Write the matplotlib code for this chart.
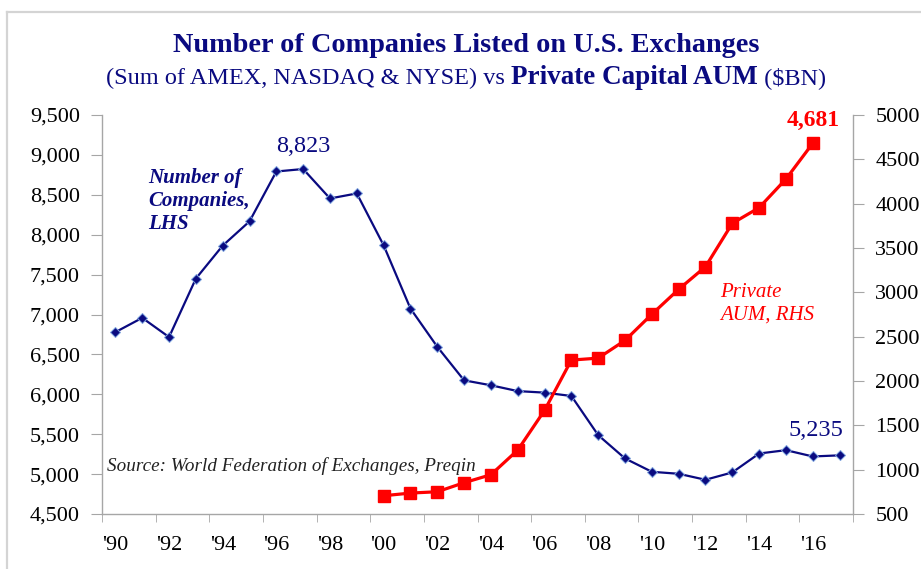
import matplotlib

matplotlib.use("Agg")
import matplotlib.pyplot as plt
from matplotlib.lines import Line2D
from matplotlib.ticker import FuncFormatter, FixedLocator

plt.rcParams["font.family"] = ["Liberation Serif", "DejaVu Serif"]

NAVY = "#0a0a80"
RED = "#ff0000"
SPINE = "#a6a6a6"

years = list(range(1990, 2018))
companies = [6779, 6958, 6717, 7450, 7863, 8167, 8792, 8823, 8454, 8517,
             7867, 7075, 6596, 6175, 6113, 6040, 6021, 5979, 5488, 5196,
             5029, 5004, 4929, 5021, 5258, 5300, 5221, 5235]
aum_years = list(range(2000, 2017))
aum = [706, 736, 751, 853, 943, 1221, 1669, 2236, 2258, 2458,
       2753, 3034, 3289, 3778, 3955, 4278, 4681]
tick_labels = ["'%02d" % (y % 100) for y in range(1990, 2018, 2)]

x_comp = [y - years[0] for y in years]
x_aum = [y - years[0] for y in aum_years]

fig = plt.figure(figsize=(9.21, 5.69), dpi=100)
ax = fig.add_axes([102 / 921, 1 - 514 / 569, 751 / 921, 399 / 569])
ax2 = ax.twinx()

# outer frame like the original slide
fig.add_artist(Line2D([7 / 921, 7 / 921], [0, 1 - 12 / 569], transform=fig.transFigure,
                      color="#d4d4d4", lw=1.6))
fig.add_artist(Line2D([7 / 921, 1], [1 - 12 / 569, 1 - 12 / 569], transform=fig.transFigure,
                      color="#d4d4d4", lw=1.6))

ax.plot(x_comp, companies, color=NAVY, lw=1.6, marker="D", ms=5.5,
        mfc=NAVY, mec="#7fa6e0", mew=0.7, zorder=3)
ax2.plot(x_aum, aum, color=RED, lw=2.3, marker="s", ms=8, mfc=RED, mec=RED, zorder=3)

ax.set_xlim(-0.5, len(years) - 0.5)
ax.set_ylim(4500, 9500)
ax2.set_ylim(500, 5000)
ax.set_yticks(range(4500, 9501, 500))
ax2.set_yticks(range(500, 5001, 500))
ax.yaxis.set_major_formatter(FuncFormatter(lambda v, p: f"{int(v):,}"))

ax.xaxis.set_major_locator(FixedLocator(list(range(0, len(years), 2))))
ax.set_xticklabels(tick_labels)
ax.xaxis.set_minor_locator(FixedLocator([i - 0.5 for i in range(0, len(years) + 1, 2)]))
ax.tick_params(axis="x", which="major", length=0, pad=16, labelsize=16)
ax.tick_params(axis="x", which="minor", length=6, color=SPINE, direction="out")
ax.tick_params(axis="y", length=8, color=SPINE, labelsize=16, pad=8)
ax2.tick_params(axis="y", length=8, color=SPINE, labelsize=16, pad=8)

for a in (ax, ax2):
    a.spines["top"].set_visible(False)
    for s in ("left", "right", "bottom"):
        a.spines[s].set_color(SPINE)
        a.spines[s].set_linewidth(1.0)
ax.spines["right"].set_visible(False)
ax2.spines["left"].set_visible(False)
ax2.spines["bottom"].set_visible(False)

# data labels
ax.annotate(f"{companies[7]:,}", (x_comp[7], companies[7]), xytext=(0, 9),
            textcoords="offset points", ha="center", va="bottom",
            fontsize=17.5, color=NAVY)
ax.annotate(f"{companies[-1]:,}", (x_comp[-1], companies[-1]), xytext=(3, 10),
            textcoords="offset points", ha="right", va="bottom",
            fontsize=17.5, color=NAVY)
ax2.annotate(f"{aum[-1]:,}", (x_aum[-1], aum[-1]), xytext=(0, 9),
             textcoords="offset points", ha="center", va="bottom",
             fontsize=17, color=RED, fontweight="bold")

ax.text(0.061, 0.868, "Number of\nCompanies,\nLHS", transform=ax.transAxes,
        ha="left", va="top", fontsize=15, style="italic", fontweight="bold",
        color=NAVY, linespacing=1.2)
ax.text(0.823, 0.578, "Private\nAUM, RHS", transform=ax.transAxes,
        ha="left", va="top", fontsize=15, style="italic", color=RED,
        linespacing=1.25)
ax.text(0.006, 0.12, "Source: World Federation of Exchanges, Preqin",
        transform=ax.transAxes, ha="left", va="center", fontsize=13.8,
        style="italic", color="#222222")

# titles
fig.text(466 / 921, 1 - 46 / 569, "Number of Companies Listed on U.S. Exchanges",
         ha="center", va="center", fontsize=20.3, fontweight="bold", color=NAVY)

parts = [("(Sum of AMEX, NASDAQ & NYSE) vs ", "normal", 17.5),
         ("Private Capital AUM", "bold", 19.5),
         (" ($BN)", "normal", 17.5)]
renderer = fig.canvas.get_renderer()
texts = []
for s, w, fs in parts:
    t = fig.text(0, 1 - 76 / 569, s, ha="left", va="baseline", fontsize=fs,
                 fontweight=w, color=NAVY)
    texts.append(t)
widths = [t.get_window_extent(renderer).width for t in texts]
x0 = 466 - sum(widths) / 2
baseline = (1 - 84 / 569)
for t, w in zip(texts, widths):
    t.set_position((x0 / fig.bbox.width, baseline))
    x0 += w

fig.savefig("out.png", dpi=100, facecolor="white")
